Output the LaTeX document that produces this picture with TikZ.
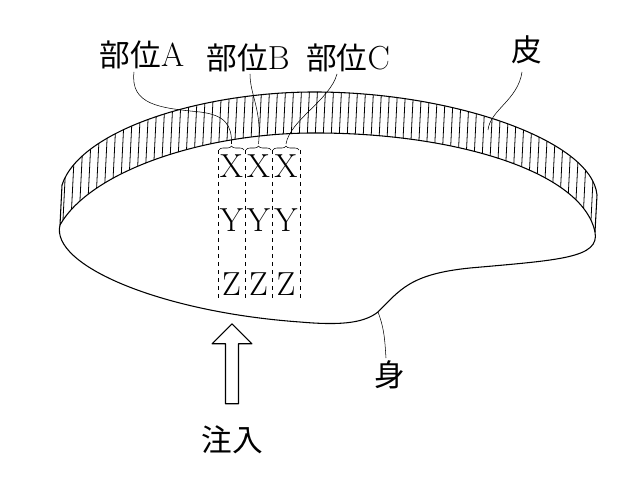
\documentclass[tikz,border=0pt]{standalone}
\usepackage{fontspec}
\newfontfamily\jpfont{Noto Sans CJK JP}
\usetikzlibrary{arrows.meta, positioning, shapes.arrows, decorations.pathreplacing}
\tikzset{
  lbl/.style={font=\jpfont\fontsize{23}{23}\selectfont, inner sep=1pt},
  cell/.style={font=\fontsize{25}{25}\selectfont, inner sep=0pt},
  leader/.style={thin},
  guide/.style={dashed, thin},
  brc/.style={decorate, decoration={brace, amplitude=3pt}}
}
\begin{document}
\begin{tikzpicture}[x=0.75pt, y=-0.75pt, line join=round]
  \useasboundingbox (0,0) rectangle (640,478);

  % skin band with hatching
  \begin{scope}
    \clip (62,185) .. controls (80,130) and (200,93) .. (310,92) .. controls (450,91) and (592,140) .. (597,195)
      -- (595,232) .. controls (582,170) and (450,132) .. (310,133) .. controls (200,134) and (90,172) .. (60,225) -- cycle;
    \foreach \x in {50,58,...,610} {
      \draw[semithick] (\x+4,80) -- (\x-4,240);
    }
  \end{scope}
  \draw[thick] (62,185) .. controls (80,130) and (200,93) .. (310,92) .. controls (450,91) and (592,140) .. (597,195)
      -- (595,232);
  \draw[thick] (595,232) .. controls (582,170) and (450,132) .. (310,133) .. controls (200,134) and (90,172) .. (60,225) -- (62,185);

  % body
  \draw[thick] (60,225) .. controls (50,265) and (160,312) .. (300,322)
    .. controls (345,326) and (365,322) .. (378,312)
    .. controls (400,290) and (410,274) .. (470,268)
    .. controls (560,260) and (600,258) .. (595,232);

  % columns
  \foreach \x in {218,245,272,300} {
    \draw[guide] (\x,150) -- (\x,300);
  }
  \foreach \c/\x in {a/231.5,b/258.5,c/286} {
    \node[cell] (x\c) at (\x,166) {X};
    \node[cell] (y\c) at (\x,220) {Y};
    \node[cell] (z\c) at (\x,284) {Z};
  }
  \draw[brc] (219,150) -- (244,150);
  \draw[brc] (246,150) -- (271,150);
  \draw[brc] (273,150) -- (299,150);
  \coordinate (ta) at (231.5,144);
  \coordinate (tb) at (258.5,144);
  \coordinate (tc) at (286,144);

  % labels
  \node[lbl] (pa) at (142,55) {部位{\rmfamily\fontsize{25}{25}\selectfont A}};
  \node[lbl] (pb) at (248,58) {部位{\rmfamily\fontsize{25}{25}\selectfont B}};
  \node[lbl] (pc) at (348,58) {部位{\rmfamily\fontsize{25}{25}\selectfont C}};
  \node[lbl] (skin) at (527,50) {皮};
  \node[lbl] (body) at (390,375) {身};
  \node[lbl] (inj) at (232,440) {注入};

  \draw[leader] (134,72) .. controls (130,105) and (160,108) .. (200,112) .. controls (225,115) and (232,125) .. (ta);
  \draw[leader] (250,74) .. controls (250,95) and (262,110) .. (tb);
  \draw[leader] (337,74) .. controls (330,100) and (290,120) .. (tc);
  \draw[leader] (522,72) .. controls (518,100) and (490,110) .. (488,130);
  \draw[leader] (378,312) .. controls (385,330) and (385,345) .. (386,358);

  % injection arrow
  \node[draw, thick, single arrow, shape border rotate=90, minimum width=30pt,
        single arrow head extend=5pt, minimum height=60pt, inner sep=2pt] (arr) at (232,367) {};
\end{tikzpicture}
\end{document}
